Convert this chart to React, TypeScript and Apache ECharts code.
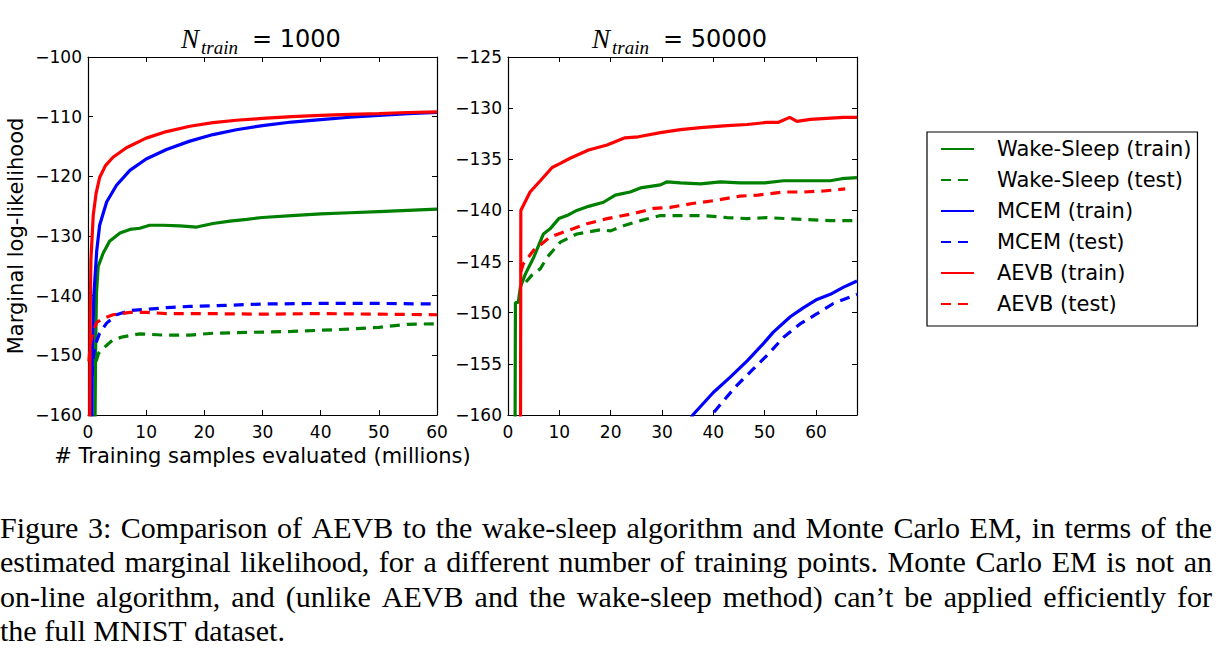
import React, { useEffect, useRef } from 'react';
import * as echarts from 'echarts';

const GREEN = '#008000';
const BLUE = '#0000ff';
const RED = '#ff0000';

const seriesNames = [
  'Wake-Sleep (train)',
  'Wake-Sleep (test)',
  'MCEM (train)',
  'MCEM (test)',
  'AEVB (train)',
  'AEVB (test)',
];

// N_train = 1000 (x: millions of samples, y: marginal log-likelihood)
const wsTrain1000 = [[1.1, -175], [1.3, -150], [1.45, -139.6], [1.75, -135.1], [2.6, -132.9], [3.7, -130.9], [5.5, -129.5], [7.2, -128.9], [8.9, -128.7], [10.6, -128.2], [12.9, -128.2], [15.8, -128.3], [18.7, -128.5], [21.5, -127.9], [24.4, -127.5], [27.3, -127.2], [30, -126.9], [35, -126.6], [40, -126.3], [45, -126.1], [50, -125.9], [55, -125.7], [60, -125.5]];
const wsTest1000 = [[1.4, -151], [1.8, -149.7], [2.3, -149.1], [4.3, -147.4], [6, -146.9], [8.9, -146.4], [12.9, -146.6], [17.5, -146.6], [21.5, -146.3], [25.5, -146.2], [30, -146.1], [35, -146], [40, -145.8], [45, -145.6], [50, -145.3], [55, -144.8], [60, -144.7]];
const mcemTrain1000 = [[0.6, -175], [0.75, -150], [1.0, -140], [1.5, -132.5], [2.0, -128.2], [3.2, -124.3], [4.9, -121.5], [7.2, -119.0], [10, -117.1], [13.5, -115.5], [17.5, -114.1], [21.5, -113.0], [25.5, -112.2], [30, -111.5], [35, -110.9], [40, -110.5], [45, -110.1], [50, -109.8], [55, -109.5], [60, -109.3]];
const mcemTest1000 = [[0.4, -162], [0.6, -155], [0.9, -150.5], [1.15, -148.5], [2, -146.3], [3.2, -144.6], [4.9, -143.2], [7.2, -142.5], [10, -142.3], [13.5, -142], [17.5, -141.8], [21.5, -141.7], [30, -141.4], [40, -141.3], [50, -141.3], [60, -141.4]];
const aevbTrain1000 = [[0.25, -175], [0.35, -145], [0.5, -134], [0.9, -126.5], [1.4, -122.8], [2.0, -120.2], [3.0, -118.2], [4.3, -116.8], [6.6, -115.2], [10, -113.6], [13.5, -112.5], [17.5, -111.6], [21.5, -111.0], [25.5, -110.6], [30, -110.3], [35, -110], [40, -109.8], [45, -109.6], [50, -109.5], [55, -109.3], [60, -109.2]];
const aevbTest1000 = [[0.15, -151], [0.4, -148], [0.87, -146], [1.5, -144.5], [2.6, -143.8], [4.3, -143.2], [7.2, -142.8], [10, -142.8], [13.5, -143], [20, -143], [30, -143.1], [40, -143], [50, -143.1], [60, -143.2]];

// N_train = 50000
const wsTrain50000 = [[1.3, -175], [1.45, -149], [2.0, -149], [2.4, -147.5], [3.4, -146.2], [5, -144.6], [6.9, -142.3], [8.2, -141.8], [9.9, -140.8], [11.5, -140.5], [13.4, -140.0], [15.7, -139.6], [18.6, -139.2], [20.9, -138.5], [23.8, -138.2], [25.8, -137.8], [29.7, -137.5], [31, -137.2], [33.6, -137.3], [37.5, -137.4], [41.4, -137.2], [45.2, -137.3], [50, -137.3], [53.7, -137.1], [58, -137.1], [62.8, -137.1], [65, -136.9], [68, -136.8]];
const wsTest50000 = [[3.5, -147], [4.7, -146.3], [6.3, -145.7], [7.6, -144.6], [10.2, -143.1], [13.4, -142.3], [18, -141.9], [20, -142.0], [22.5, -141.5], [25.8, -141.0], [29.7, -140.5], [33.6, -140.5], [38.1, -140.5], [42.7, -140.7], [46.6, -140.8], [50.4, -140.7], [54.3, -140.8], [58.2, -140.9], [62.8, -141.0], [68, -141.0]];
const mcemTrain50000 = [[30, -166], [36, -160], [40, -157.8], [43.3, -156.3], [46.6, -154.7], [49.8, -153.0], [51.7, -151.9], [55, -150.4], [57.6, -149.5], [60.2, -148.7], [62.8, -148.2], [65.4, -147.5], [68, -146.9]];
const mcemTest50000 = [[35, -164], [39.7, -160], [42, -158.6], [44.6, -157.1], [47.8, -155.5], [50.8, -154.0], [53.7, -152.4], [56.9, -151.1], [60.2, -150.1], [63.4, -149.1], [68, -148.2]];
const aevbTrain50000 = [[2.4, -175], [2.5, -140], [4.3, -138.2], [6.3, -137.1], [8.6, -135.8], [10.2, -135.4], [12.1, -134.9], [15.7, -134.1], [19.3, -133.6], [22.8, -132.9], [25.4, -132.8], [29.7, -132.4], [33.6, -132.1], [37.5, -131.9], [42.7, -131.7], [46.6, -131.6], [50.4, -131.4], [52.6, -131.4], [54.9, -130.9], [56.3, -131.3], [58.9, -131.1], [62.1, -131.0], [65.4, -130.9], [68, -130.9]];
const aevbTest50000 = [[2.5, -146], [3.0, -145.2], [5, -143.9], [8.2, -142.6], [11.5, -142.0], [15.4, -141.3], [19.3, -140.8], [24.5, -140.3], [28.4, -139.8], [31.6, -139.7], [36.2, -139.3], [40.7, -139.0], [45.2, -138.6], [48.7, -138.5], [53.7, -138.2], [57.6, -138.2], [61.5, -138.1], [65.7, -137.9]];

const leftY = { min: -160, max: -100, interval: 10 };
const rightY = { min: -160, max: -125, interval: 5 };
const leftX = { min: 0, max: 60, interval: 10 };
const rightX = { min: 0, max: 68, interval: 10 };

const xAxisName = '# Training samples evaluated (millions)';
const yAxisName = 'Marginal log-likelihood';

const captionLines = [
  'Figure 3: Comparison of AEVB to the wake-sleep algorithm and Monte Carlo EM, in terms of the',
  'estimated marginal likelihood, for a different number of training points. Monte Carlo EM is not an',
  'on-line algorithm, and (unlike AEVB and the wake-sleep method) can\u2019t be applied efficiently for',
  'the full MNIST dataset.',
];

const SANS = 'DejaVu Sans';
const SERIF = 'Liberation Serif';

const fmtMinus = (v: number) => String(v).replace('-', '\u2212');

export default function App() {
  const ref = useRef<HTMLDivElement>(null);
  useEffect(() => {
    const chart = echarts.init(ref.current!, null, { renderer: 'svg' });

    const grids = [
      { left: 88, top: 57, width: 349, height: 358 },
      { left: 508, top: 57, width: 349, height: 358 },
    ];

    const tick = { show: true, inside: true, length: 5, lineStyle: { color: '#000', width: 1 } };
    const line = { show: true, onZero: false, lineStyle: { color: '#000', width: 1.2 } };
    const lblStyle = { color: '#000', fontFamily: SANS, fontSize: 17 };

    const mkX = (gi: number, ext: any, pos: string, labels: boolean, name?: string) => ({
      type: 'value', gridIndex: gi, position: pos, ...ext,
      axisLine: line, axisTick: tick, splitLine: { show: false },
      axisLabel: labels ? { ...lblStyle, margin: 8, formatter: (v: number) => (v % 10 === 0 ? fmtMinus(v) : '') } : { show: false },
      name: name || '', nameLocation: 'middle', nameGap: 30,
      nameTextStyle: { color: '#000', fontFamily: SANS, fontSize: 21 },
    });
    const mkY = (gi: number, ext: any, pos: string, labels: boolean, name?: string) => ({
      type: 'value', gridIndex: gi, position: pos, ...ext,
      axisLine: line, axisTick: tick, splitLine: { show: false },
      axisLabel: labels ? { ...lblStyle, margin: 6, formatter: fmtMinus } : { show: false },
      name: name || '', nameLocation: 'middle', nameGap: 62,
      nameTextStyle: { color: '#000', fontFamily: SANS, fontSize: 21 },
    });

    const xAxis = [
      mkX(0, leftX, 'bottom', true, xAxisName),
      mkX(0, leftX, 'top', false),
      mkX(1, rightX, 'bottom', true),
      mkX(1, rightX, 'top', false),
    ];
    const yAxis = [
      mkY(0, leftY, 'left', true, yAxisName),
      mkY(0, leftY, 'right', false),
      mkY(1, rightY, 'left', true),
      mkY(1, rightY, 'right', false),
    ];

    const mk = (name: string, data: number[][], color: string, dashed: boolean, gi: number) => ({
      name, type: 'line', data, xAxisIndex: gi * 2, yAxisIndex: gi * 2,
      symbol: 'none', showSymbol: false, clip: true, smooth: false,
      lineStyle: { color, width: 3.2, type: dashed ? [10, 7] : 'solid' },
      itemStyle: { color },
      emphasis: { disabled: true },
    });

    const series = [
      mk(seriesNames[0], wsTrain1000, GREEN, false, 0),
      mk(seriesNames[1], wsTest1000, GREEN, true, 0),
      mk(seriesNames[2], mcemTrain1000, BLUE, false, 0),
      mk(seriesNames[3], mcemTest1000, BLUE, true, 0),
      mk(seriesNames[4], aevbTrain1000, RED, false, 0),
      mk(seriesNames[5], aevbTest1000, RED, true, 0),
      mk(seriesNames[0], wsTrain50000, GREEN, false, 1),
      mk(seriesNames[1], wsTest50000, GREEN, true, 1),
      mk(seriesNames[2], mcemTrain50000, BLUE, false, 1),
      mk(seriesNames[3], mcemTest50000, BLUE, true, 1),
      mk(seriesNames[4], aevbTrain50000, RED, false, 1),
      mk(seriesNames[5], aevbTest50000, RED, true, 1),
    ];

    // caption, justified word by word
    const ctx = document.createElement('canvas').getContext('2d')!;
    ctx.font = `30px "${SERIF}"`;
    const measure = (s: string) => ctx.measureText(s).width;
    const CAP_X0 = 0;
    const CAP_X1 = 1212;
    const CAP_Y0 = 527;
    const CAP_DY = 34.5;
    const caption: any[] = [];
    captionLines.forEach((ln, i) => {
      const words = ln.split(' ');
      const widths = words.map(measure);
      const total = widths.reduce((a, b) => a + b, 0);
      const justify = i < captionLines.length - 1;
      const gap = justify ? (CAP_X1 - CAP_X0 - total) / (words.length - 1) : measure(' ');
      let x = CAP_X0;
      words.forEach((w, j) => {
        caption.push({
          type: 'text', x, y: CAP_Y0 + i * CAP_DY, silent: true,
          style: { text: w, fontFamily: SERIF, fontSize: 30, fill: '#000', verticalAlign: 'middle', align: 'left' },
        });
        x += widths[j] + gap;
      });
    });

    const titleParts = (xN: number, xSub: number, xEq: number, rest: string) => [
      { type: 'text', x: xN, y: 38.5, silent: true, style: { text: 'N', fontFamily: SERIF, fontStyle: 'italic', fontSize: 27, fill: '#000', verticalAlign: 'middle' } },
      { type: 'text', x: xSub, y: 47, silent: true, style: { text: 'train', fontFamily: SERIF, fontStyle: 'italic', fontSize: 19, fill: '#000', verticalAlign: 'middle' } },
      { type: 'text', x: xEq, y: 38.7, silent: true, style: { text: rest, fontFamily: SANS, fontSize: 24, fill: '#000', verticalAlign: 'middle' } },
    ];

    chart.setOption({
      animation: false,
      backgroundColor: '#fff',
      textStyle: { fontFamily: SANS },
      grid: grids,
      xAxis,
      yAxis,
      series,
      legend: {
        data: seriesNames,
        orient: 'vertical',
        left: 927,
        top: 132,
        padding: [5, 6, 10, 13],
        borderColor: '#000',
        borderWidth: 1.2,
        itemGap: 7,
        itemWidth: 33,
        itemHeight: 14,
        selectedMode: false,
        itemStyle: { opacity: 0 },
        textStyle: { color: '#000', fontFamily: SANS, fontSize: 21, lineHeight: 24, padding: [0, 0, 0, 18] },
      },
      graphic: [
        ...titleParts(181, 201, 252, '= 1000'),
        ...titleParts(592, 612, 663, '= 50000'),
        ...caption,
      ],
    });
    return () => chart.dispose();
  }, []);
  return <div ref={ref} style={{ position: 'fixed', left: 0, top: 0, width: 1224, height: 664, background: '#fff' }} />;
}
